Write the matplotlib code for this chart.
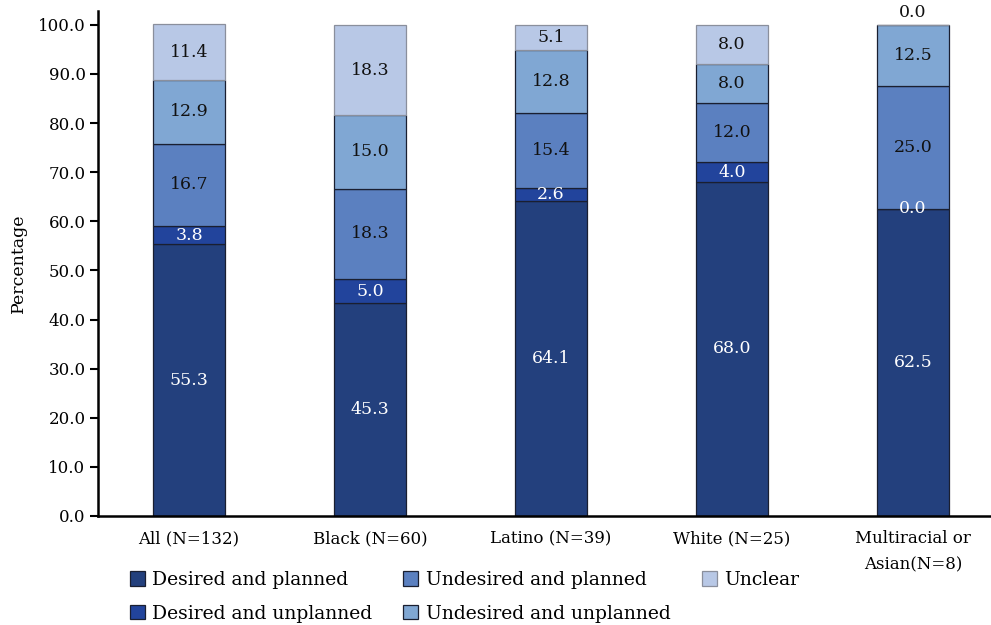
import numpy as np
import matplotlib
matplotlib.use("Agg")
import matplotlib.pyplot as plt

plt.rcParams['font.family'] = ['DejaVu Serif']

groups = ['All (N=132)', 'Black (N=60)', 'Latino (N=39)', 'White (N=25)',
          'Multiracial or\nAsian(N=8)']
series = ['Desired and planned', 'Desired and unplanned', 'Undesired and planned',
          'Undesired and unplanned', 'Unclear']

desired_planned = [55.3, 43.3, 64.1, 68.0, 62.5]
desired_unplanned = [3.8, 5.0, 2.6, 4.0, 0.0]
undesired_planned = [16.7, 18.3, 15.4, 12.0, 25.0]
undesired_unplanned = [12.9, 15.0, 12.8, 8.0, 12.5]
unclear = [11.4, 18.3, 5.1, 8.0, 0.0]

# label printed in the source differs from the bar height
label_fix = {(0, 1): '45.3'}

colors = ['#23407d', '#22449c', '#5b80c0', '#80a7d3', '#b8c8e6']
text_colors = ['white', 'white', '#111111', '#111111', '#111111']

data = [desired_planned, desired_unplanned, undesired_planned, undesired_unplanned, unclear]

fig = plt.figure(figsize=(9.91, 6.25), dpi=100)
ax = fig.add_axes([98 / 991, 1 - 516 / 625, 1 - 98 / 991, (516 - 11) / 625])

x = np.arange(len(groups))
width = 0.4
bottom = np.zeros(len(groups))
handles = []
for i, vals in enumerate(data):
    vals = np.array(vals)
    ec = '#8a8f9c' if i == 4 else '#1a1f30'
    b = ax.bar(x, vals, width, bottom=bottom, color=colors[i], edgecolor=ec,
               linewidth=0.9, label=series[i])
    handles.append(b)
    for j, v in enumerate(vals):
        txt = label_fix.get((i, j), '%.1f' % v)
        y = bottom[j] + v / 2
        va = 'center'
        if v == 0 and i == len(data) - 1:
            y = bottom[j] + 0.8
            va = 'bottom'
        ax.text(x[j], y, txt, ha='center', va=va, fontsize=12.5,
                color=text_colors[i])
    bottom += vals

ax.set_xlim(-0.503, 4.431)
ax.set_ylim(0, 102.8)
ax.set_yticks(np.arange(0, 101, 10))
ax.set_yticklabels(['%.1f' % t for t in np.arange(0, 101, 10)], fontsize=12)
ax.set_xticks(x)
ax.set_xticklabels(groups, fontsize=12, linespacing=1.7)
ax.tick_params(axis='x', length=0, pad=10)
ax.tick_params(axis='y', length=6, width=1.5, pad=3)
for s in ['top', 'right']:
    ax.spines[s].set_visible(False)
for s in ['left', 'bottom']:
    ax.spines[s].set_linewidth(1.8)
ax.set_ylabel('Percentage', fontsize=12.5, labelpad=8)

fig.legend(handles, series, ncol=3, loc='upper left',
           bbox_to_anchor=(113 / 991, 1 - 554 / 625), frameon=False,
           fontsize=13.5, handlelength=0.8, handleheight=0.8,
           handletextpad=0.4, columnspacing=1.65, labelspacing=0.85)

fig.savefig('out.png', dpi=100)
